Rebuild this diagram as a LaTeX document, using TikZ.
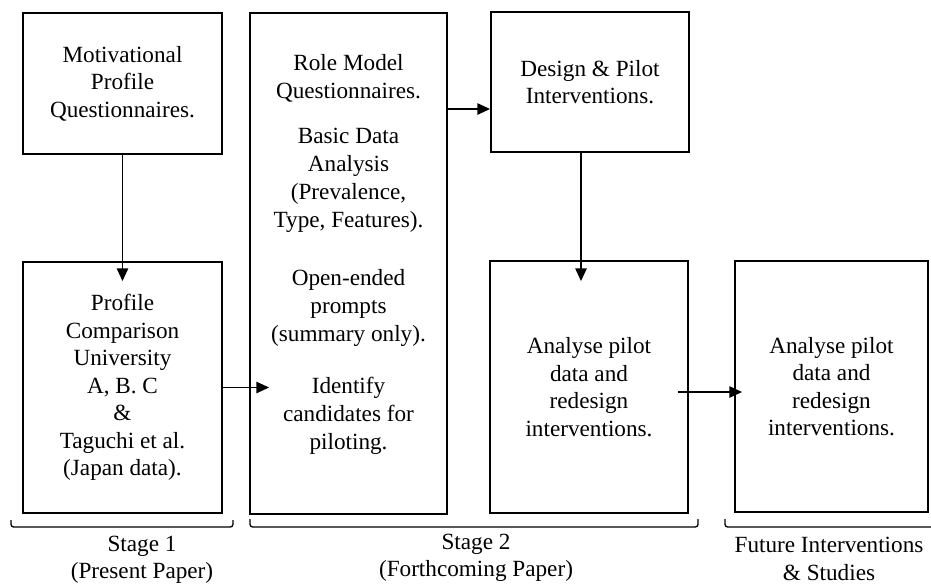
\documentclass[tikz,border=0pt]{standalone}
\usepackage{fontspec}
\setmainfont{Liberation Serif}
\usetikzlibrary{arrows.meta,calc}
\begin{document}
\begin{tikzpicture}[x=0.75pt,y=-0.75pt,
  box/.style={draw=black, line width=1.4pt, inner sep=0pt, align=center,
    font=\fontsize{17.4}{20.6}\selectfont},
  txt/.style={inner sep=0pt, align=center, font=\fontsize{17.4}{20.6}\selectfont},
  arr/.style={line width=1.1pt, -{Triangle[length=9.5pt,width=8.5pt]}},
  bracket/.style={line width=1pt, rounded corners=2pt}]
\useasboundingbox (0,0) rectangle (931,587);

% stage boxes
\node[box, minimum width=149.25pt, minimum height=105.75pt] (a) at (122.5,83.5)
  {Motivational\\Profile\\Questionnaires.};
\node[box, minimum width=149.25pt, minimum height=188.25pt] (b) at (122.5,387.5)
  {Profile\\Comparison\\University\\A, B. C\\\&\\Taguchi et al.\\(Japan data).};
\node[box, minimum width=147.75pt, minimum height=375.75pt] (c) at (348.5,263.5) {};
\node[txt, font=\fontsize{17.4}{21}\selectfont] (ctext) at (348.5,254.5)
  {Role Model\\Questionnaires.\\[12.75pt]
  Basic Data\\Analysis\\(Prevalence,\\Type, Features).\\[22.5pt]
  Open-ended\\prompts\\(summary only).\\[18pt]
  Identify\\candidates for\\piloting.};
\node[box, minimum width=148.5pt, minimum height=105pt] (d) at (590,82)
  {Design \& Pilot\\Interventions.};
\node[box, minimum width=148.5pt, minimum height=189pt] (e) at (589,387)
  {Analyse pilot\\data and\\redesign\\interventions.};
\node[box, minimum width=144.75pt, minimum height=188.25pt] (f) at (831.5,386.5)
  {Analyse pilot\\data and\\redesign\\interventions.};

% connectors
\coordinate (cd) at (0,109);
\coordinate (de) at (581,0);
\coordinate (ef) at (0,392);
\draw[arr] (a.south) -- ($(b.north)+(0,20)$);
\draw[arr] (b.east) -- ($(c.west |- b.east)+(20,0)$);
\draw[arr] (c.east |- cd) -- (d.west |- cd);
\draw[arr] (d.south -| de) -- ($(e.north -| de)+(0,21)$);
\draw[arr] ($(e.east |- ef)+(-11,0)$) -- ($(f.west |- ef)+(8,0)$);

% brackets under the stages
\draw[bracket] (11,520) -- (11,527) -- (233,527) -- (233,520);
\draw[bracket] (250,519) -- (250,527) -- (698,527) -- (698,519);
\draw[bracket] (725,519) -- (725,527) -- (960,527);

% stage labels
\node[txt] (s1) at (142,560) {Stage 1\\(Present Paper)};
\node[txt] (s2) at (476,558) {Stage 2\\(Forthcoming Paper)};
\node[txt] (s3) at (829,559) {Future Interventions\\\& Studies};
\end{tikzpicture}
\end{document}
